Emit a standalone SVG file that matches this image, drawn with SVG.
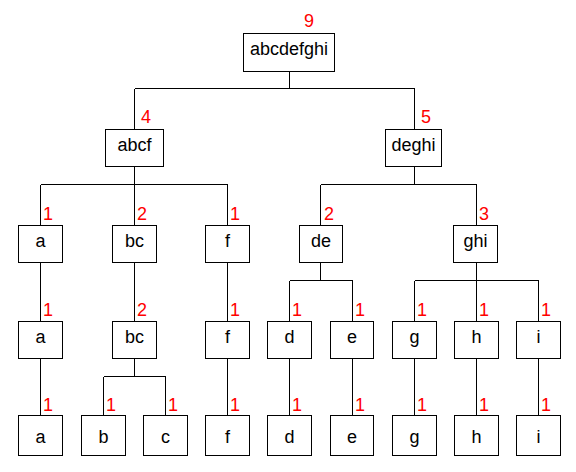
<svg xmlns="http://www.w3.org/2000/svg" width="576" height="472" viewBox="0 0 576 472">
  <style>
    .box { fill: #ffffff; stroke: #000000; stroke-width: 1; shape-rendering: crispEdges; }
    .lbl { font-family: "Liberation Sans", Arial, sans-serif; font-size: 18px; fill: #000000; text-anchor: middle; }
    .cnt { font-family: "Liberation Sans", Arial, sans-serif; font-size: 18px; fill: #ff0000; }
    #connectors path { fill: none; stroke: #000000; stroke-width: 1; shape-rendering: crispEdges; }
  </style>
  <rect width="576" height="472" fill="#ffffff"/>

  <g id="connectors">
    <!-- root -> abcf, deghi -->
    <path d="M289.5 71.5 V88.5 M134.5 88.5 H414.5 M134.5 88.5 V129.5 M414.5 88.5 V129.5"/>
    <!-- abcf -> a, bc, f -->
    <path d="M134.5 166.5 V184.5 M40.5 184.5 H227.5 M40.5 184.5 V225.5 M134.5 184.5 V225.5 M227.5 184.5 V225.5"/>
    <!-- deghi -> de, ghi -->
    <path d="M414.5 166.5 V184.5 M320.5 184.5 H476.5 M320.5 184.5 V225.5 M476.5 184.5 V225.5"/>
    <!-- level 2 -> level 3 -->
    <path d="M40.5 262.5 V321.5 M134.5 262.5 V321.5 M227.5 262.5 V321.5"/>
    <path d="M320.5 262.5 V280.5 M289.5 280.5 H352.5 M289.5 280.5 V321.5 M352.5 280.5 V321.5"/>
    <path d="M476.5 262.5 V280.5 M414.5 280.5 H538.5 M414.5 280.5 V321.5 M476.5 280.5 V321.5 M538.5 280.5 V321.5"/>
    <!-- level 3 -> level 4 -->
    <path d="M40.5 358.5 V415.5 M227.5 358.5 V415.5 M289.5 358.5 V415.5 M352.5 358.5 V415.5 M414.5 358.5 V415.5 M476.5 358.5 V415.5 M538.5 358.5 V415.5"/>
    <path d="M134.5 358.5 V376.5 M103.5 376.5 H165.5 M103.5 376.5 V415.5 M165.5 376.5 V415.5"/>
  </g>

  <!-- root -->
  <g id="n-abcdefghi">
    <rect class="box" x="243.5" y="33.5" width="91" height="38"/>
    <text class="lbl" x="289" y="55">abcdefghi</text>
    <text class="cnt" x="304" y="27">9</text>
  </g>

  <!-- level 1 -->
  <g id="n-abcf">
    <rect class="box" x="105.5" y="129.5" width="58" height="37"/>
    <text class="lbl" x="134.5" y="151">abcf</text>
    <text class="cnt" x="141" y="123">4</text>
  </g>
  <g id="n-deghi">
    <rect class="box" x="385.5" y="129.5" width="56" height="37"/>
    <text class="lbl" x="413.5" y="151">deghi</text>
    <text class="cnt" x="421" y="123">5</text>
  </g>

  <!-- level 2 -->
  <g id="n-a-2">
    <rect class="box" x="18.5" y="225.5" width="44" height="37"/>
    <text class="lbl" x="40.5" y="247">a</text>
    <text class="cnt" x="43" y="220">1</text>
  </g>
  <g id="n-bc-2">
    <rect class="box" x="112.5" y="225.5" width="44" height="37"/>
    <text class="lbl" x="134.5" y="247">bc</text>
    <text class="cnt" x="137" y="220">2</text>
  </g>
  <g id="n-f-2">
    <rect class="box" x="205.5" y="225.5" width="44" height="37"/>
    <text class="lbl" x="227.5" y="247">f</text>
    <text class="cnt" x="230" y="220">1</text>
  </g>
  <g id="n-de-2">
    <rect class="box" x="299.5" y="225.5" width="43" height="37"/>
    <text class="lbl" x="321" y="247">de</text>
    <text class="cnt" x="324" y="220">2</text>
  </g>
  <g id="n-ghi-2">
    <rect class="box" x="453.5" y="225.5" width="44" height="37"/>
    <text class="lbl" x="475.5" y="247">ghi</text>
    <text class="cnt" x="479" y="220">3</text>
  </g>

  <!-- level 3 -->
  <g id="n-a-3">
    <rect class="box" x="18.5" y="321.5" width="44" height="37"/>
    <text class="lbl" x="40.5" y="343">a</text>
    <text class="cnt" x="43" y="316">1</text>
  </g>
  <g id="n-bc-3">
    <rect class="box" x="112.5" y="321.5" width="44" height="37"/>
    <text class="lbl" x="134.5" y="343">bc</text>
    <text class="cnt" x="137" y="316">2</text>
  </g>
  <g id="n-f-3">
    <rect class="box" x="205.5" y="321.5" width="44" height="37"/>
    <text class="lbl" x="227.5" y="343">f</text>
    <text class="cnt" x="230" y="316">1</text>
  </g>
  <g id="n-d-3">
    <rect class="box" x="267.5" y="321.5" width="44" height="37"/>
    <text class="lbl" x="289.5" y="343">d</text>
    <text class="cnt" x="292" y="316">1</text>
  </g>
  <g id="n-e-3">
    <rect class="box" x="330.5" y="321.5" width="43" height="37"/>
    <text class="lbl" x="352" y="343">e</text>
    <text class="cnt" x="355" y="316">1</text>
  </g>
  <g id="n-g-3">
    <rect class="box" x="392.5" y="321.5" width="44" height="37"/>
    <text class="lbl" x="414.5" y="343">g</text>
    <text class="cnt" x="417" y="316">1</text>
  </g>
  <g id="n-h-3">
    <rect class="box" x="454.5" y="321.5" width="44" height="37"/>
    <text class="lbl" x="476.5" y="343">h</text>
    <text class="cnt" x="479" y="316">1</text>
  </g>
  <g id="n-i-3">
    <rect class="box" x="516.5" y="321.5" width="44" height="37"/>
    <text class="lbl" x="538.5" y="343">i</text>
    <text class="cnt" x="541" y="316">1</text>
  </g>

  <!-- level 4 (leaves) -->
  <g id="n-a-4">
    <rect class="box" x="18.5" y="415.5" width="44" height="40"/>
    <text class="lbl" x="40.5" y="443">a</text>
    <text class="cnt" x="43" y="411">1</text>
  </g>
  <g id="n-b-4">
    <rect class="box" x="81.5" y="415.5" width="44" height="40"/>
    <text class="lbl" x="103.5" y="443">b</text>
    <text class="cnt" x="106" y="411">1</text>
  </g>
  <g id="n-c-4">
    <rect class="box" x="143.5" y="415.5" width="44" height="40"/>
    <text class="lbl" x="165.5" y="443">c</text>
    <text class="cnt" x="168" y="411">1</text>
  </g>
  <g id="n-f-4">
    <rect class="box" x="205.5" y="415.5" width="44" height="40"/>
    <text class="lbl" x="227.5" y="443">f</text>
    <text class="cnt" x="230" y="411">1</text>
  </g>
  <g id="n-d-4">
    <rect class="box" x="267.5" y="415.5" width="44" height="40"/>
    <text class="lbl" x="289.5" y="443">d</text>
    <text class="cnt" x="292" y="411">1</text>
  </g>
  <g id="n-e-4">
    <rect class="box" x="330.5" y="415.5" width="43" height="40"/>
    <text class="lbl" x="352" y="443">e</text>
    <text class="cnt" x="355" y="411">1</text>
  </g>
  <g id="n-g-4">
    <rect class="box" x="392.5" y="415.5" width="44" height="40"/>
    <text class="lbl" x="414.5" y="443">g</text>
    <text class="cnt" x="417" y="411">1</text>
  </g>
  <g id="n-h-4">
    <rect class="box" x="454.5" y="415.5" width="44" height="40"/>
    <text class="lbl" x="476.5" y="443">h</text>
    <text class="cnt" x="479" y="411">1</text>
  </g>
  <g id="n-i-4">
    <rect class="box" x="516.5" y="415.5" width="44" height="40"/>
    <text class="lbl" x="538.5" y="443">i</text>
    <text class="cnt" x="541" y="411">1</text>
  </g>
</svg>
